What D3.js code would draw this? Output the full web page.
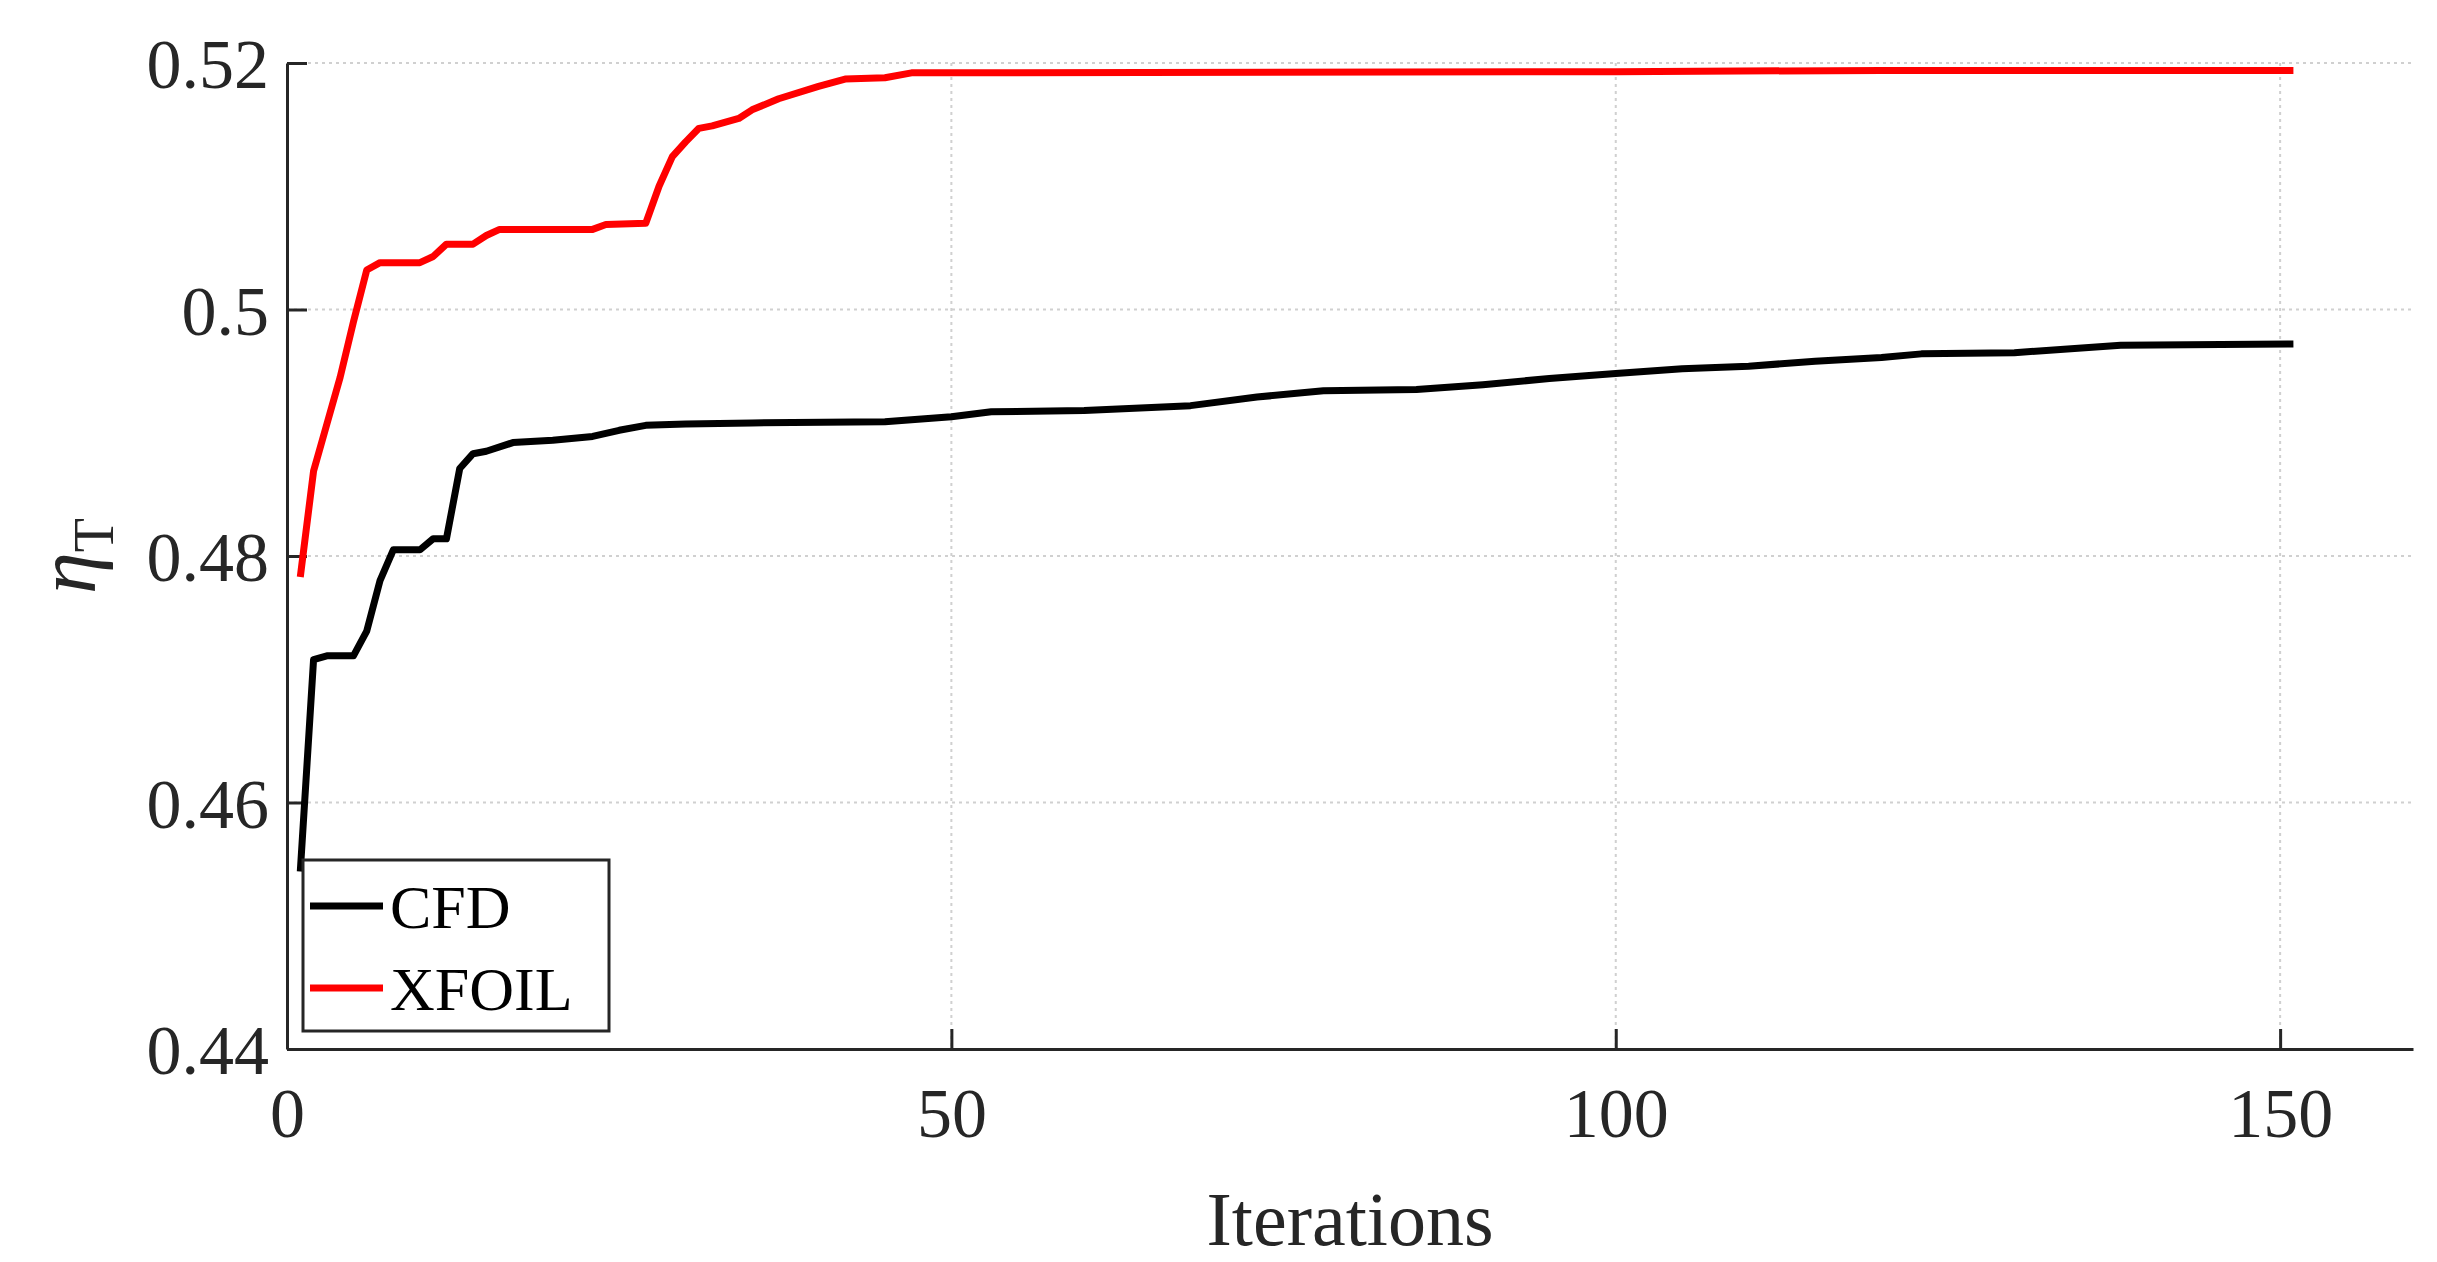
<!DOCTYPE html>
<html><head><meta charset="utf-8">
<script src="https://cdn.jsdelivr.net/npm/d3@7"></script>
<style>body{margin:0;background:#fff}</style></head>
<body><svg id="c" width="2437" height="1262"></svg>
<script>
const cfdX=[1,2,3,5,6,7,8,10,11,12,13,14,15,17,20,23,25,27,30,35,45,50,53,60,68,73,78,85,90,95,100,105,110,115,120,123,130,138,151];
const cfdY=[0.4544,0.4716,0.4719,0.4719,0.4739,0.478,0.4805,0.4805,0.4814,0.4814,0.4871,0.4883,0.4885,0.4892,0.4894,0.4897,0.4902,0.4906,0.4907,0.4908,0.4909,0.4913,0.4917,0.4918,0.4922,0.4929,0.4934,0.4935,0.4939,0.4944,0.4948,0.4952,0.4954,0.4958,0.4961,0.4964,0.4965,0.4971,0.4972];
const xfX=[1,2,3,4,5,6,7,10,11,12,14,15,16,20,23,24,27,28,29,30,31,32,34,35,37,40,42,45,47,50,100,120,151];
const xfY=[0.4783,0.4869,0.4907,0.4945,0.499,0.5032,0.5038,0.5038,0.5043,0.5053,0.5053,0.506,0.5065,0.5065,0.5065,0.5069,0.507,0.51,0.5124,0.5136,0.5147,0.5149,0.5155,0.5162,0.5171,0.5181,0.5187,0.5188,0.5192,0.5192,0.5193,0.5194,0.5194];
const xTicks=[0,50,100,150];
const yTicks=[0.44,0.46,0.48,0.5,0.52];
const L=287,R=2413,T=63,B=1049;
const svg=d3.select("#c");
const x=d3.scaleLinear().domain([0,160]).range([L,R]);
const y=d3.scaleLinear().domain([0.44,0.52]).range([B,T]);
const font="'Liberation Serif','Times New Roman',serif";
// grid
svg.append("g").selectAll("line").data(xTicks.slice(1)).join("line")
 .attr("x1",d=>x(d)).attr("x2",d=>x(d)).attr("y1",T).attr("y2",B)
 .attr("stroke","#d0d0d0").attr("stroke-width",2).attr("stroke-dasharray","3,4");
svg.append("g").selectAll("line").data(yTicks.slice(1)).join("line")
 .attr("x1",L).attr("x2",R).attr("y1",d=>y(d)).attr("y2",d=>y(d))
 .attr("stroke","#d0d0d0").attr("stroke-width",2).attr("stroke-dasharray","3,4");
// axes
const xa=svg.append("g").attr("transform",`translate(0,${B})`).call(d3.axisBottom(x).tickValues(xTicks).tickSizeInner(-20).tickSizeOuter(0).tickPadding(38));
const ya=svg.append("g").attr("transform",`translate(${L},0)`).call(d3.axisLeft(y).tickValues(yTicks).tickFormat(d=>String(+d.toFixed(2))).tickSizeInner(-20).tickSizeOuter(0).tickPadding(18));
[xa,ya].forEach(a=>{a.select(".domain").attr("stroke","#262626").attr("stroke-width",3);
 a.selectAll(".tick line").attr("stroke","#262626").attr("stroke-width",3);
 a.selectAll("text").attr("font-family",font).attr("font-size",70).attr("fill","#262626");});
xa.selectAll("text").attr("dy","0.71em");
ya.selectAll("text").attr("dy","0.35em");
// lines
const line=d3.line().x(d=>x(d[0])).y(d=>y(d[1]));
svg.append("path").datum(cfdX.map((v,i)=>[v,cfdY[i]])).attr("d",line).attr("fill","none").attr("stroke","#000").attr("stroke-width",7).attr("stroke-linejoin","round");
svg.append("path").datum(xfX.map((v,i)=>[v,xfY[i]])).attr("d",line).attr("fill","none").attr("stroke","#ff0000").attr("stroke-width",7).attr("stroke-linejoin","round");
// labels
svg.append("text").attr("x",(L+R)/2).attr("y",1245).attr("text-anchor","middle").attr("font-family",font).attr("font-size",76).attr("fill","#262626").text("Iterations");
const yl=svg.append("text").attr("transform",`translate(95,${(T+B)/2}) rotate(-90)`).attr("text-anchor","middle").attr("font-family",font).attr("fill","#262626");
yl.append("tspan").attr("font-style","italic").attr("font-size",84).text("η");
yl.append("tspan").attr("font-size",56).attr("dy",18).text("T");
// legend
const lg=svg.append("g");
lg.append("rect").attr("x",303).attr("y",860).attr("width",306).attr("height",171).attr("fill","#fff").attr("stroke","#262626").attr("stroke-width",3);
[["CFD","#000"],["XFOIL","#ff0000"]].forEach((d,i)=>{
 const yy=906+i*82;
 lg.append("line").attr("x1",310).attr("x2",383).attr("y1",yy).attr("y2",yy).attr("stroke",d[1]).attr("stroke-width",7);
 lg.append("text").attr("x",390).attr("y",yy).attr("dy","0.35em").attr("font-family",font).attr("font-size",62).attr("fill","#000").text(d[0]);
});
</script></body></html>
